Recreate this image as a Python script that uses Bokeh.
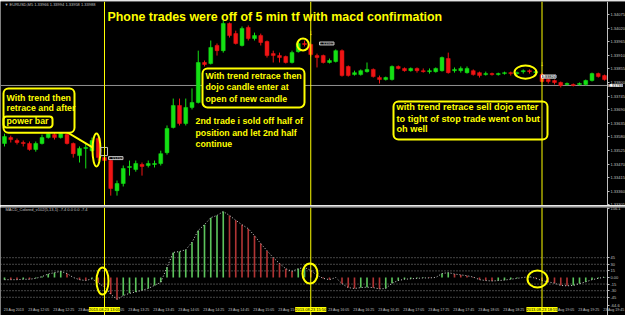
from bokeh.plotting import figure
from bokeh.layouts import column
from bokeh.models import (Span, BoxAnnotation, Label, FixedTicker,
                          NumeralTickFormatter, ColumnDataSource, Range1d)
from bokeh.embed import file_html
from bokeh.resources import INLINE

# ---------------- data: EURUSD M5, 23 Aug 2013 ----------------
bar = list(range(97))
open_ = [1.33553, 1.33577, 1.33565, 1.33557, 1.33553, 1.33529, 1.33553, 1.33577, 1.33589, 1.33577,
         1.33589, 1.33553, 1.33504, 1.33533, 1.33524, 1.33573, 1.33496, 1.33484, 1.33362, 1.33391,
         1.33456, 1.33448, 1.33468, 1.33464, 1.33468, 1.33472, 1.33516, 1.33618, 1.33707, 1.33634,
         1.33699, 1.33719, 1.33881, 1.33877, 1.33950, 1.33929, 1.34039, 1.33998, 1.33950, 1.34023,
         1.33978, 1.33990, 1.33966, 1.33917, 1.33909, 1.33905, 1.33881, 1.33925, 1.33958, 1.33954,
         1.33909, 1.33909, 1.33881, 1.33885, 1.33929, 1.33865, 1.33832, 1.33832, 1.33844, 1.33853,
         1.33820, 1.33812, 1.33812, 1.33865, 1.33857, 1.33848, 1.33857, 1.33848, 1.33844, 1.33844,
         1.33848, 1.33897, 1.33848, 1.33848, 1.33840, 1.33848, 1.33840, 1.33832, 1.33836, 1.33832,
         1.33836, 1.33840, 1.33836, 1.33844, 1.33848, 1.33840, 1.33832, 1.33812, 1.33808, 1.33800,
         1.33792, 1.33792, 1.33792, 1.33792, 1.33808, 1.33836, 1.33828]
high = [1.33593, 1.33585, 1.33573, 1.33565, 1.33561, 1.33561, 1.33589, 1.33614, 1.33601, 1.33614,
        1.33618, 1.33557, 1.33541, 1.33553, 1.33577, 1.33581, 1.33512, 1.33492, 1.33403, 1.33464,
        1.33484, 1.33484, 1.33476, 1.33484, 1.33484, 1.33524, 1.33626, 1.33735, 1.33735, 1.33735,
        1.33776, 1.33929, 1.33889, 1.33970, 1.33958, 1.34051, 1.34043, 1.34010, 1.34027, 1.34031,
        1.34002, 1.33998, 1.33970, 1.33929, 1.33921, 1.33909, 1.33929, 1.33966, 1.33970, 1.33958,
        1.33917, 1.33913, 1.33897, 1.33934, 1.33934, 1.33869, 1.33848, 1.33853, 1.33881, 1.33857,
        1.33828, 1.33824, 1.33869, 1.33869, 1.33861, 1.33861, 1.33861, 1.33857, 1.33857, 1.33861,
        1.33905, 1.33921, 1.33861, 1.33865, 1.33865, 1.33853, 1.33844, 1.33844, 1.33840, 1.33840,
        1.33844, 1.33844, 1.33844, 1.33853, 1.33853, 1.33848, 1.33840, 1.33816, 1.33812, 1.33804,
        1.33800, 1.33796, 1.33800, 1.33812, 1.33840, 1.33840, 1.33832]
low = [1.33541, 1.33557, 1.33549, 1.33541, 1.33524, 1.33520, 1.33549, 1.33573, 1.33569, 1.33573,
       1.33549, 1.33496, 1.33476, 1.33452, 1.33520, 1.33484, 1.33472, 1.33342, 1.33342, 1.33379,
       1.33423, 1.33439, 1.33423, 1.33456, 1.33456, 1.33464, 1.33508, 1.33614, 1.33626, 1.33626,
       1.33691, 1.33715, 1.33865, 1.33873, 1.33909, 1.33921, 1.33982, 1.33954, 1.33946, 1.33970,
       1.33970, 1.33950, 1.33901, 1.33881, 1.33881, 1.33877, 1.33877, 1.33921, 1.33946, 1.33905,
       1.33861, 1.33877, 1.33877, 1.33881, 1.33824, 1.33824, 1.33828, 1.33828, 1.33840, 1.33820,
       1.33796, 1.33808, 1.33808, 1.33853, 1.33844, 1.33844, 1.33840, 1.33840, 1.33836, 1.33840,
       1.33844, 1.33836, 1.33840, 1.33840, 1.33836, 1.33828, 1.33820, 1.33828, 1.33828, 1.33828,
       1.33832, 1.33828, 1.33832, 1.33836, 1.33836, 1.33836, 1.33800, 1.33796, 1.33792, 1.33780,
       1.33788, 1.33784, 1.33788, 1.33788, 1.33804, 1.33820, 1.33808]
close = [1.33581, 1.33569, 1.33557, 1.33553, 1.33529, 1.33553, 1.33577, 1.33593, 1.33577, 1.33593,
         1.33553, 1.33512, 1.33533, 1.33537, 1.33565, 1.33496, 1.33484, 1.33371, 1.33391, 1.33452,
         1.33460, 1.33472, 1.33460, 1.33472, 1.33472, 1.33512, 1.33614, 1.33707, 1.33634, 1.33699,
         1.33719, 1.33881, 1.33873, 1.33942, 1.33929, 1.34039, 1.33990, 1.33958, 1.34019, 1.33978,
         1.33990, 1.33962, 1.33909, 1.33909, 1.33901, 1.33881, 1.33921, 1.33958, 1.33954, 1.33913,
         1.33901, 1.33881, 1.33889, 1.33929, 1.33828, 1.33828, 1.33840, 1.33848, 1.33853, 1.33824,
         1.33812, 1.33820, 1.33865, 1.33857, 1.33848, 1.33857, 1.33848, 1.33844, 1.33848, 1.33857,
         1.33901, 1.33840, 1.33853, 1.33857, 1.33857, 1.33832, 1.33828, 1.33836, 1.33832, 1.33836,
         1.33840, 1.33836, 1.33840, 1.33848, 1.33844, 1.33844, 1.33804, 1.33804, 1.33800, 1.33788,
         1.33796, 1.33788, 1.33796, 1.33808, 1.33836, 1.33824, 1.33812]
macd = [-5, -5, -5, -4, -4, -2, 2, 8, 11, 14,
        9, 0, -5, -7, -3, -12, -22, -38, -50, -41,
        -36, -33, -29, -25, -18, -11, 23, 57, 59, 63,
        80, 107, 120, 136, 141, 150, 141, 130, 120, 111,
        95, 77, 61, 45, 32, 20, 14, 20, 23, 16,
        5, -2, -5, 0, -14, -23, -25, -23, -22, -23,
        -26, -25, -13, -7, -4, -3, -2, -1, -1, 0,
        9, 11, 8, 6, 4, 1, -5, -7, -8, -7,
        -6, -4, -2, 0, 2, -2, -7, -10, -13, -18,
        -19, -18, -14, -10, -5, -2, 1]
price_ticks = [1.34075, 1.34020, 1.33965, 1.33910, 1.33855, 1.33800, 1.33745, 1.33690,
               1.33635, 1.33580, 1.33525, 1.33470, 1.33415, 1.33360, 1.33305]
macd_ticks = [156.1, 45, 30, 15, 0, -15, -30, -45, -64.6]
macd_tick_text = ["156.1", "45", "30", "15", "0.00", "-15", "-30", "-45", "-64.6"]
macd_levels = [45, 30, 15, -15, -30, -45]
time_labels = ["23 Aug 2013", "23 Aug 12:05", "23 Aug 12:25", "23 Aug 12:45", "23 Aug 13:05",
               "23 Aug 13:25", "23 Aug 13:45", "23 Aug 14:05", "23 Aug 14:25", "23 Aug 14:45",
               "23 Aug 15:05", "23 Aug 15:25", "23 Aug 15:45", "23 Aug 16:05", "23 Aug 16:25",
               "23 Aug 16:45", "23 Aug 17:05", "23 Aug 17:25", "23 Aug 17:45", "23 Aug 18:05",
               "23 Aug 18:25", "23 Aug 18:45", "23 Aug 19:05", "23 Aug 19:25", "23 Aug 19:45"]
marked_bars = [16, 49, 86]
marked_times = ["2013.08.23 13:05", "2013.08.23 15:50", "2013.08.23 18:55"]
bid = 1.33788

# ---------------- styling ----------------
BULL, BEAR = "#14e014", "#f01414"
YEL = "#ffff00"
GRAY = "#c0c0c0"
FONT = "Liberation Sans"
X_AXIS = 96.48          # bar-units position of the price-scale separator

xr = Range1d(-0.64, 99.36)

p = figure(frame_width=625, frame_height=204, x_range=xr, y_range=Range1d(1.33302, 1.34128),
           output_backend="svg", toolbar_location=None, y_axis_location="right",
           background_fill_color="black", border_fill_color="#9a9a9a",
           min_border_left=0, min_border_right=0, min_border_top=1, min_border_bottom=0,
           outline_line_color=None)
m = figure(frame_width=625, frame_height=108, x_range=xr, y_range=Range1d(-86.4, 159.1),
           output_backend="svg", toolbar_location=None, y_axis_location="right",
           background_fill_color="black", border_fill_color="#a8a8a8",
           min_border_left=0, min_border_right=0, min_border_top=2, min_border_bottom=0,
           outline_line_color=None)

for f in (p, m):
    f.xgrid.visible = False
    f.ygrid.visible = False
    for ax in f.yaxis:
        ax.fixed_location = X_AXIS
        ax.axis_line_color = GRAY
        ax.major_tick_line_color = GRAY
        ax.major_tick_out = 2
        ax.major_tick_in = 0
        ax.minor_tick_line_color = None
        ax.major_label_text_font_size = "4px"
        ax.major_label_text_color = GRAY
        ax.major_label_text_font = FONT
        ax.major_label_standoff = 1

p.xaxis.visible = False
p.yaxis.ticker = FixedTicker(ticks=price_ticks)
p.yaxis.formatter = NumeralTickFormatter(format="0.00000")

m.yaxis.ticker = FixedTicker(ticks=macd_ticks)
m.yaxis.major_label_overrides = dict(zip(macd_ticks, macd_tick_text))

tick_pos = [4 * k + 1.5 for k in range(len(time_labels))]
m.xaxis.fixed_location = -64.6
m.xaxis.ticker = FixedTicker(ticks=tick_pos)
m.xaxis.major_label_overrides = dict(zip(tick_pos, time_labels))
m.xaxis.axis_line_color = None
m.xaxis.major_tick_line_color = None
m.xaxis.minor_tick_line_color = None
m.xaxis.major_tick_out = 0
m.xaxis.major_tick_in = 0
m.xaxis.major_label_text_font_size = "3.6px"
m.xaxis.major_label_text_color = GRAY
m.xaxis.major_label_text_font = FONT
m.xaxis.major_label_standoff = 2

# ---------------- candles ----------------
colors = [BULL if c >= o else BEAR for o, c in zip(open_, close)]
src = ColumnDataSource(dict(x=bar, o=open_, h=high, l=low, c=close,
                            top=[max(a, b) for a, b in zip(open_, close)],
                            bot=[min(a, b) for a, b in zip(open_, close)],
                            col=colors))
p.segment(x0=xr.start, x1=X_AXIS, y0=bid, y1=bid, line_color="#909090", line_width=1)
p.segment(x0="x", x1="x", y0="l", y1="h", line_color="col", line_width=1, source=src)
p.vbar(x="x", top="top", bottom="bot", width=0.62, fill_color="col", line_color="col",
       line_width=0.5, source=src)

# ---------------- MACD ----------------
hcol = ["#5cc45c" if i == 0 or macd[i] > macd[i - 1] else "#b03434" for i in range(len(macd))]
msrc = ColumnDataSource(dict(x=bar, v=macd, col=hcol))
m.segment(x0=xr.start, x1=X_AXIS, y0=macd_levels, y1=macd_levels, line_color="#8a8a8a",
          line_dash="1 2", line_width=1)
m.vbar(x="x", top="v", bottom=0, width=0.26, fill_color="col", line_color=None, source=msrc)
m.line(x="x", y="v", line_color="#d0d0d0", line_dash="1 2", line_width=1, source=msrc)

# ---------------- annotations: price panel ----------------
boxes = [(-0.16, 11.2, 1.33776, 1.33597), (31.68, 48.0, 1.33857, 1.33699),
         (62.24, 86.88, 1.33723, 1.33569)]
for l, r, t, b in boxes:
    p.add_layout(BoxAnnotation(left=l, right=r, top=t, bottom=b, fill_color="black",
                               fill_alpha=1, line_color=YEL, line_alpha=1, line_width=2,
                               border_radius=5))
p.add_layout(BoxAnnotation(left=-0.16, right=7.68, top=1.33662, bottom=1.33618,
                           fill_alpha=0, line_color=YEL, line_alpha=1, line_width=2,
                           border_radius=3))
p.line([7.68, 14.08], [1.33634, 1.33537], line_color=YEL, line_width=2)

p.ellipse(x=[14.72, 47.76, 83.36], y=[1.33527, 1.33954, 1.33842],
          width=[1.28, 1.85, 3.52], height=[0.00134, 0.00049, 0.00053],
          fill_alpha=0, line_color=YEL, line_width=2)
p.add_layout(BoxAnnotation(left=15.36, right=16.48, top=1.33537, bottom=1.33504,
                           fill_alpha=0, line_color=GRAY, line_alpha=1, line_width=1))

def txt(fig, x, y, s, size, color=YEL, bold=True, align="left", bg=None, border=None, tc=None):
    fig.add_layout(Label(x=x, y=y, text=s, text_font=FONT, text_font_size=size,
                         text_font_style="bold" if bold else "normal",
                         text_color=tc or color, text_align=align, text_baseline="middle",
                         background_fill_color=bg, border_line_color=border))

for f in (p, m):
    for b in marked_bars:
        f.add_layout(Span(location=b, dimension="height", line_color=YEL, line_width=1))

txt(p, 16.48, 1.34067, "Phone trades were off of 5 min tf with macd confirmation", "12.4px")
for y, s in zip([1.33739, 1.33695, 1.33646], ["With trend  then", "retrace and after", "power bar"]):
    txt(p, 0.32, y, s, "8.8px")
for y, s in zip([1.33828, 1.33780, 1.33735],
                ["With trend retrace then", "dojo candle enter at", "open of new candle"]):
    txt(p, 32.16, y, s, "8.8px")
for y, s in zip([1.33646, 1.33597, 1.33553],
                ["2nd trade i sold off half of", "position and let 2nd half", "continue"]):
    txt(p, 30.56, y, s, "8.8px")
for y, s in zip([1.33699, 1.33654, 1.33610],
                ["with trend retrace sell dojo enter", "to tight of stop trade went on but", "oh well"]):
    txt(p, 62.72, y, s, "9.2px")

txt(p, 0.0, 1.34116, "\u25bc EURUSD,M5  1.33966 1.33994 1.33958 1.33988", "4px", color=GRAY, bold=False)
txt(p, 50.4, 1.33958, "1.33965", "4px", color=GRAY, bold=False, bg="black", border=GRAY)
txt(p, 16.64, 1.33494, "1.33490", "4px", color=GRAY, bold=False, bg="black", border=GRAY)
txt(p, 85.92, 1.33824, "1.33824", "4px", bold=False, bg="#c8c8c8", border="white", tc="black")
txt(p, 49.0, 1.34002, "\u2193", "7px", align="center")
txt(p, 86.0, 1.33877, "\u2193", "7px", align="center")
txt(p, 96.64, bid, "1.33788", "4px", bold=False, bg="white", tc="black")

# ---------------- annotations: MACD panel ----------------
m.ellipse(x=[15.68, 48.88, 85.28], y=[-8.0, 9.1, -3.4], width=[1.92, 2.4, 3.2],
          height=[61.4, 45.5, 38.6], fill_alpha=0, line_color=YEL, line_width=2)
txt(m, 0.16, 154.5, "MACD_Colored_v102(5,13,1) -7.4 0.0 0.0 -7.4", "4px", color=GRAY, bold=False)
for b, s in zip(marked_bars, marked_times):
    txt(m, b, -72.7, s, "4px", bold=False, align="center", bg=YEL, tc="black")

layout = column(p, m)
open("out.html", "w").write(file_html(layout, INLINE))
